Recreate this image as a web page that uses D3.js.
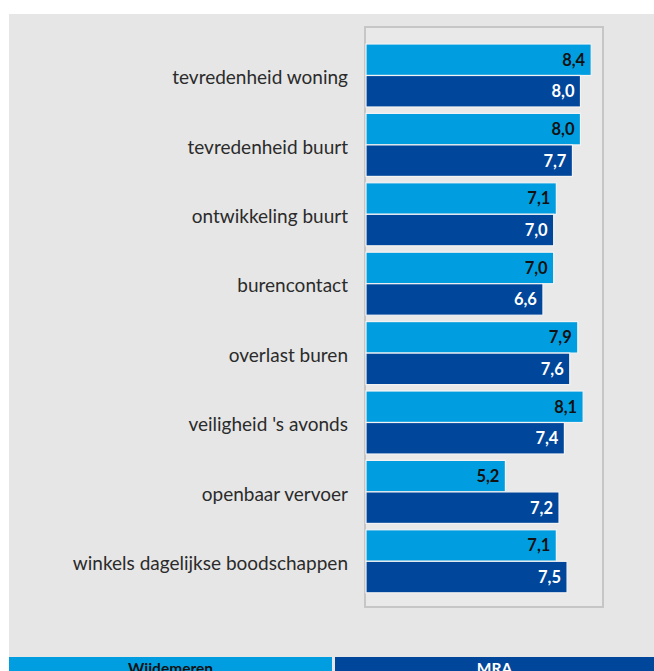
<!DOCTYPE html>
<html>
<head>
<meta charset="utf-8">
<script src="https://cdn.jsdelivr.net/npm/d3@7"></script>
<style>
  body { margin: 0; background: #fff; }
  svg { display: block; font-family: Lato, "Open Sans", sans-serif; }
</style>
</head>
<body>
<div id="chart"></div>
<script>
var categories = [
  "tevredenheid woning",
  "tevredenheid buurt",
  "ontwikkeling buurt",
  "burencontact",
  "overlast buren",
  "veiligheid 's avonds",
  "openbaar vervoer",
  "winkels dagelijkse boodschappen"
];
var wijdemeren = [8.4, 8.0, 7.1, 7.0, 7.9, 8.1, 5.2, 7.1];
var mra = [8.0, 7.7, 7.0, 6.6, 7.6, 7.4, 7.2, 7.5];
var seriesNames = ["Wijdemeren", "MRA"];
var colors = ["#009ee0", "#00469b"];

var W = 654, H = 671;
var box = {left: 365, right: 603, top: 27, bottom: 607};

var svg = d3.select("#chart").append("svg")
    .attr("width", W)
    .attr("height", H);

// grey panel
svg.append("rect")
  .attr("x", 9).attr("y", 14)
  .attr("width", W - 9).attr("height", H - 14)
  .attr("fill", "#e6e6e6");

// plot box
svg.append("rect")
  .attr("x", box.left).attr("y", box.top)
  .attr("width", box.right - box.left).attr("height", box.bottom - box.top)
  .attr("fill", "#e9e9e9")
  .attr("stroke", "#c6c6c6")
  .attr("stroke-width", 2);

var xScale = d3.scaleLinear()
  .domain([0, 8.84])
  .range([366, 603]);

var yScale = d3.scaleBand()
  .domain(categories)
  .range([37.6, 599.2])
  .padding(0.092);

var sub = d3.scaleBand()
  .domain([0, 1])
  .range([0, yScale.bandwidth()]);

var fmt = function(v) { return d3.format(".1f")(v).replace(".", ","); };

var groups = svg.selectAll(".grp")
  .data(categories)
  .enter().append("g")
    .attr("class", "grp")
    .attr("transform", function(d) { return "translate(0," + yScale(d) + ")"; });

groups.append("text")
  .attr("x", 348)
  .attr("y", yScale.bandwidth() / 2 + 2)
  .attr("dy", "0.35em")
  .attr("text-anchor", "end")
  .attr("font-size", 19)
  .attr("fill", "#2b2b2b")
  .text(function(d) { return d; });

[wijdemeren, mra].forEach(function(vals, s) {
  groups.append("rect")
    .attr("x", xScale(0))
    .attr("y", sub(s))
    .attr("width", function(d, i) { return xScale(vals[i]) - xScale(0); })
    .attr("height", sub.bandwidth())
    .attr("fill", colors[s])
    .attr("stroke", "#f3f3f3")
    .attr("stroke-width", 1.2);

  groups.append("text")
    .attr("x", function(d, i) { return xScale(vals[i]) - 6; })
    .attr("y", sub(s) + sub.bandwidth() / 2)
    .attr("dy", "0.36em")
    .attr("text-anchor", "end")
    .attr("font-size", 16.5)
    .attr("font-weight", "bold")
    .attr("fill", s == 0 ? "#111" : "#fff")
    .text(function(d, i) { return fmt(vals[i]); });
});

// legend strip at bottom
var legend = [[9, 332], [335, W]];
legend.forEach(function(l, s) {
  svg.append("rect")
    .attr("x", l[0]).attr("y", 657)
    .attr("width", l[1] - l[0]).attr("height", H - 657)
    .attr("fill", colors[s]);
  svg.append("text")
    .attr("x", (l[0] + l[1]) / 2)
    .attr("y", 674)
    .attr("text-anchor", "middle")
    .attr("font-size", 15.5)
    .attr("font-weight", "bold")
    .attr("fill", s == 0 ? "#111" : "#fff")
    .text(seriesNames[s]);
});
</script>
</body>
</html>
